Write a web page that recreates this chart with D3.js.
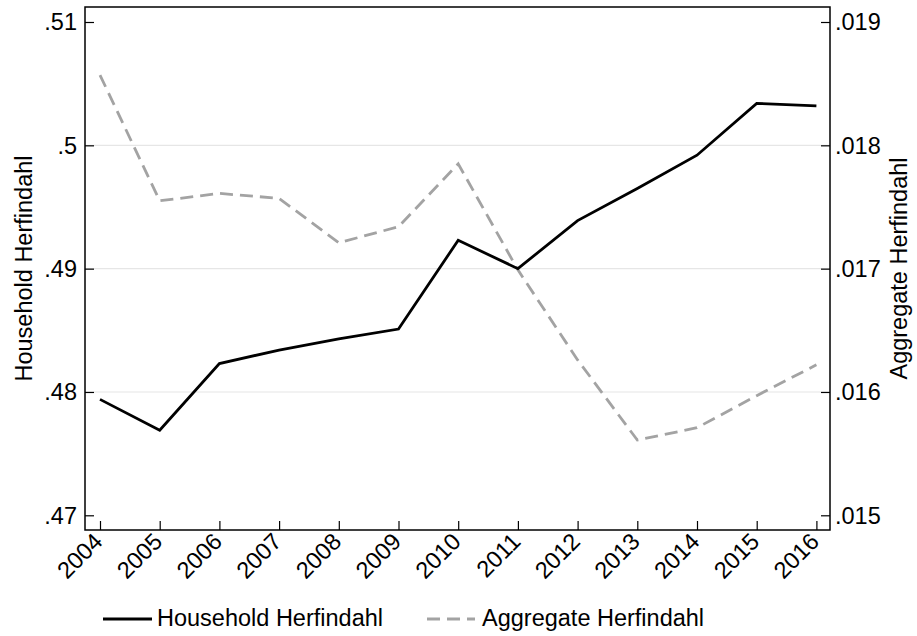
<!DOCTYPE html>
<html>
<head>
<meta charset="utf-8">
<script src="https://cdn.jsdelivr.net/npm/d3@7"></script>
<style>
  html, body { margin: 0; padding: 0; background: #fff; }
  svg { display: block; }
  text { font-family: "Liberation Sans", Arial, Helvetica, sans-serif; fill: #000; }
</style>
</head>
<body>
<svg id="chart" width="917" height="636"></svg>
<script>
const years = [2004, 2005, 2006, 2007, 2008, 2009, 2010, 2011, 2012, 2013, 2014, 2015, 2016];
const householdHerfindahl = [0.4794, 0.4769, 0.4823, 0.4834, 0.4843, 0.4851, 0.4923, 0.4900, 0.4939, 0.4965, 0.4992, 0.5034, 0.5032];
const aggregateHerfindahl = [0.01857, 0.01755, 0.01761, 0.01757, 0.01721, 0.01734, 0.01785, 0.01699, 0.01626, 0.01561, 0.01571, 0.01597, 0.01622];
const leftTicks = [0.47, 0.48, 0.49, 0.50, 0.51];
const leftTickLabels = [".47", ".48", ".49", ".5", ".51"];
const rightTicks = [0.015, 0.016, 0.017, 0.018, 0.019];
const rightTickLabels = [".015", ".016", ".017", ".018", ".019"];
const gridTicks = [0.48, 0.49, 0.50];
const seriesNames = ["Household Herfindahl", "Aggregate Herfindahl"];
const axisTitles = ["Household Herfindahl", "Aggregate Herfindahl"];

const svg = d3.select("#chart");
const box = { left: 85, right: 830, top: 7, bottom: 530 };
const FS = 23.5;
const grey = "#a3a3a3";

const x = d3.scaleLinear().domain([2004, 2016]).range([100, 816.4]);
const yL = d3.scaleLinear().domain([0.47, 0.51]).range([515.3, 22]);
const yR = d3.scaleLinear().domain([0.015, 0.019]).range([515.3, 22]);

// gridlines
svg.append("g").selectAll("line").data(gridTicks).join("line")
  .attr("x1", box.left).attr("x2", box.right)
  .attr("y1", d => yL(d)).attr("y2", d => yL(d))
  .attr("stroke", "#e6e6e6").attr("stroke-width", 1.2);

// left axis (ticks inward)
const gL = svg.append("g").attr("transform", `translate(${box.left},0)`)
  .call(d3.axisRight(yL).tickValues(leftTicks).tickSize(9).tickFormat(""));
gL.select(".domain").remove();
gL.selectAll(".tick line").attr("stroke", "#000").attr("stroke-width", 1.2);
svg.append("g").selectAll("text").data(leftTicks).join("text")
  .attr("x", 77).attr("y", d => yL(d)).attr("dy", "0.36em")
  .attr("text-anchor", "end").style("font-size", FS + "px")
  .text((d, i) => leftTickLabels[i]);

// right axis (ticks inward)
const gR = svg.append("g").attr("transform", `translate(${box.right},0)`)
  .call(d3.axisLeft(yR).tickValues(rightTicks).tickSize(9).tickFormat(""));
gR.select(".domain").remove();
gR.selectAll(".tick line").attr("stroke", "#000").attr("stroke-width", 1.2);
svg.append("g").selectAll("text").data(rightTicks).join("text")
  .attr("x", 835).attr("y", d => yR(d)).attr("dy", "0.36em")
  .attr("text-anchor", "start").style("font-size", FS + "px")
  .text((d, i) => rightTickLabels[i]);

// bottom axis (ticks inward)
const gB = svg.append("g").attr("transform", `translate(0,${box.bottom})`)
  .call(d3.axisTop(x).tickValues(years).tickSize(9).tickFormat(""));
gB.select(".domain").remove();
gB.selectAll(".tick line").attr("stroke", "#000").attr("stroke-width", 1.2);
svg.append("g").selectAll("text").data(years).join("text")
  .attr("transform", d => `translate(${x(d) + 4},${box.bottom + 13}) rotate(-45)`)
  .attr("text-anchor", "end").style("font-size", FS + "px")
  .text(d => d3.format("d")(d));

// frame
svg.append("rect")
  .attr("x", box.left).attr("y", box.top)
  .attr("width", box.right - box.left).attr("height", box.bottom - box.top)
  .attr("fill", "none").attr("stroke", "#000").attr("stroke-width", 1.5);

// lines
const lineL = d3.line().x((d, i) => x(years[i])).y(d => yL(d));
const lineR = d3.line().x((d, i) => x(years[i])).y(d => yR(d));
svg.append("path").datum(aggregateHerfindahl).attr("d", lineR)
  .attr("fill", "none").attr("stroke", grey).attr("stroke-width", 2.8)
  .attr("stroke-dasharray", "13,7");
svg.append("path").datum(householdHerfindahl).attr("d", lineL)
  .attr("fill", "none").attr("stroke", "#000").attr("stroke-width", 2.8);

// axis titles
svg.append("text").attr("transform", `translate(32,${(box.top + box.bottom) / 2}) rotate(-90)`)
  .attr("text-anchor", "middle").style("font-size", FS + "px").text(axisTitles[0]);
svg.append("text").attr("transform", `translate(907,${(box.top + box.bottom) / 2}) rotate(-90)`)
  .attr("text-anchor", "middle").style("font-size", FS + "px").text(axisTitles[1]);

// legend
const leg = svg.append("g");
leg.append("line").attr("x1", 103).attr("x2", 152).attr("y1", 619).attr("y2", 619)
  .attr("stroke", "#000").attr("stroke-width", 2.8);
leg.append("text").attr("x", 157).attr("y", 626).style("font-size", FS + "px").text(seriesNames[0]);
leg.append("line").attr("x1", 427).attr("x2", 475).attr("y1", 619).attr("y2", 619)
  .attr("stroke", grey).attr("stroke-width", 2.8).attr("stroke-dasharray", "13,7");
leg.append("text").attr("x", 482).attr("y", 626).style("font-size", FS + "px").text(seriesNames[1]);
</script>
</body>
</html>
